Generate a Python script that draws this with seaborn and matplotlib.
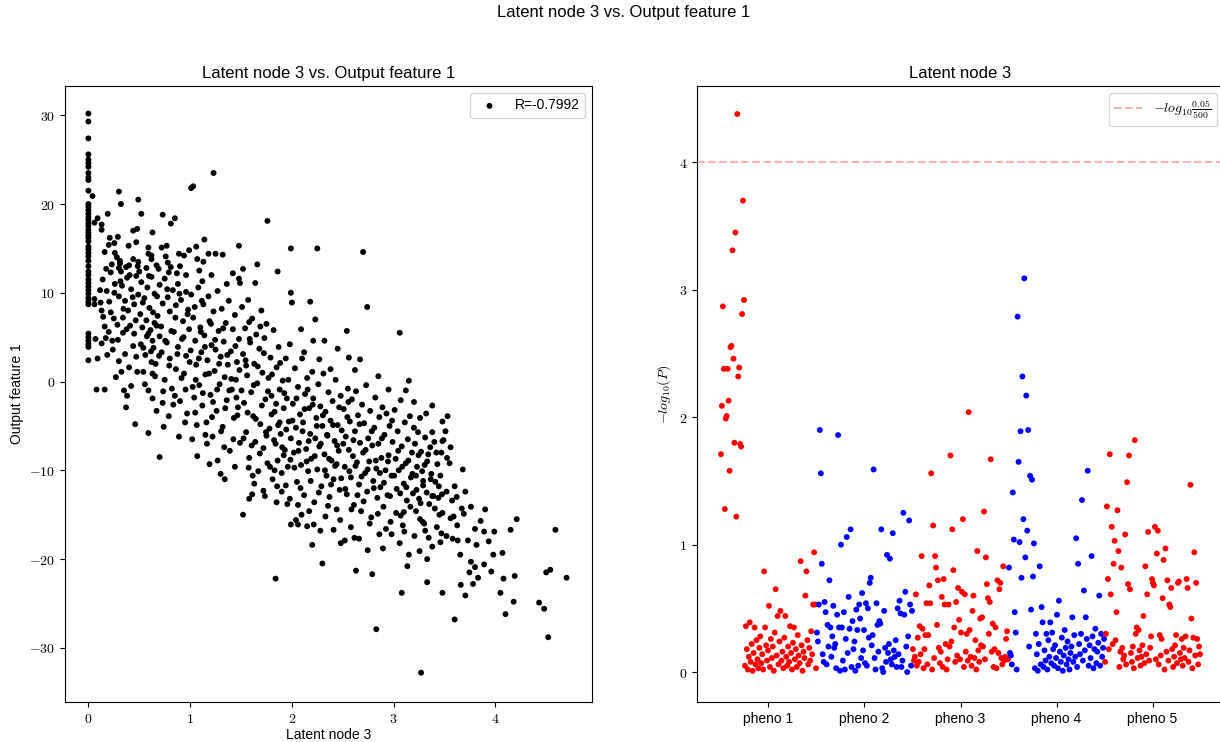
import matplotlib
matplotlib.use("Agg")
import matplotlib.pyplot as plt
from matplotlib.ticker import FuncFormatter
import numpy as np
import pandas as pd
import seaborn as sns

# ---------------------------------------------------------------- data
# latent node 3 activation == 0 (ReLU floor): output feature values
zero_latent_output = [30.2, 29.3, 27.4, 25.6, 25.0, 24.6, 24.2, 23.5, 23.0, 22.7,
                      21.5, 20.0, 19.7, 19.3, 18.9, 18.5, 18.2, 17.8, 17.5, 17.1,
                      16.8, 16.5, 16.2, 15.8, 15.2, 14.9, 14.5, 14.1, 13.6, 13.0,
                      12.4, 12.0, 11.5, 11.1, 10.7, 10.3, 9.9, 9.4, 9.0, 8.7,
                      5.4, 5.0, 4.6, 4.2, 3.9, 2.4]

# (latent node 3, output feature 1) pairs, grouped by latent range
band_0_05 = [(0.04, 20.9), (0.06, 17.9), (0.09, 18.4), (0.13, 17.7), (0.13, 17.1),
             (0.19, 18.9), (0.30, 21.4), (0.32, 20.0), (0.21, 16.2), (0.29, 16.3),
             (0.20, 15.4), (0.16, 14.6), (0.26, 14.5), (0.28, 14.0), (0.31, 13.6),
             (0.31, 13.3), (0.37, 12.9), (0.32, 12.4), (0.40, 13.1), (0.44, 17.0),
             (0.48, 17.2), (0.47, 15.7), (0.49, 20.5), (0.06, 9.3), (0.06, 8.7),
             (0.12, 8.9), (0.13, 8.0), (0.22, 7.8), (0.07, 4.8), (0.13, 4.3),
             (0.17, 4.9), (0.24, 3.6), (0.29, 4.7), (0.09, 2.6), (0.34, 5.5),
             (0.34, 7.2), (0.39, 8.0), (0.41, 6.3), (0.45, 5.4), (0.14, 11.5),
             (0.18, 10.2), (0.22, 12.3), (0.26, 11.0), (0.30, 9.6), (0.33, 10.8),
             (0.36, 9.1), (0.38, 11.7), (0.42, 10.4), (0.45, 8.7), (0.47, 11.9),
             (0.49, 9.8), (0.16, 6.2), (0.20, 5.6), (0.25, 7.1), (0.30, 2.3),
             (0.36, 3.1), (0.40, 1.6), (0.44, 4.0), (0.47, 2.8), (0.27, 0.5),
             (0.42, -0.5), (0.48, 1.1), (0.08, -0.9), (0.16, -0.9), (0.35, -1.0),
             (0.38, -1.6), (0.37, -2.9), (0.46, -4.8), (0.30, 12.8), (0.44, 13.8),
             (0.23, 13.2), (0.115, 10.3), (0.145, 7.3), (0.175, 12.7), (0.205, 9.0),
             (0.235, 4.6), (0.255, 10.0), (0.285, 6.4), (0.315, 11.3), (0.345, 8.2),
             (0.375, 5.9), (0.405, 12.0), (0.435, 9.5), (0.465, 6.9), (0.485, 13.0),
             (0.255, 15.6), (0.395, 15.3), (0.185, 3.0), (0.325, 1.1)]

band_05_10 = [(0.52, 18.9), (0.63, 16.8), (0.49, 13.5), (0.50, 12.4), (0.59, 15.1),
              (0.59, 14.4), (0.62, 14.2), (0.62, 13.8), (0.67, 13.1), (0.57, 12.8),
              (0.72, 15.1), (0.77, 15.3), (0.76, 14.1), (0.78, 13.4), (0.79, 12.3),
              (0.73, 18.8), (0.81, 17.8), (0.85, 18.4), (0.89, 14.4), (0.94, 14.2),
              (0.87, 12.2), (0.51, 7.6), (0.53, 6.1), (0.54, 3.8), (0.59, 5.4),
              (0.63, 4.6), (0.64, 3.8), (0.67, 6.3), (0.52, 11.2), (0.55, 9.4),
              (0.58, 10.6), (0.60, 8.3), (0.62, 11.8), (0.65, 9.9), (0.68, 7.4),
              (0.70, 10.9), (0.73, 8.8), (0.75, 11.6), (0.78, 9.5), (0.80, 7.9),
              (0.83, 10.3), (0.86, 8.6), (0.88, 11.0), (0.91, 9.2), (0.93, 6.8),
              (0.96, 10.1), (0.98, 8.1), (0.54, 1.1), (0.59, -1.0), (0.62, 2.2),
              (0.63, 0.9), (0.63, -1.9), (0.59, -5.8), (0.74, -5.1), (0.70, -8.5),
              (0.89, -6.2), (0.56, 3.0), (0.66, 2.0), (0.70, 5.1), (0.72, 3.3),
              (0.75, 0.2), (0.77, 4.4), (0.80, 2.6), (0.82, -0.8), (0.84, 5.6),
              (0.86, 1.4), (0.88, 3.9), (0.90, -2.2), (0.92, 4.8), (0.94, 0.9),
              (0.96, 2.9), (0.97, -3.6), (0.99, 5.9), (0.73, -2.4), (0.67, -3.3),
              (0.79, -3.9), (0.85, -1.6), (0.95, -4.6), (0.57, 6.9), (0.61, 5.8),
              (0.65, 6.6), (0.69, 12.7), (0.81, 12.9), (0.90, 13.0), (0.96, 12.0),
              (0.99, 14.8), (0.515, 4.2), (0.535, 8.9), (0.555, -0.3), (0.575, 5.1),
              (0.595, 11.9), (0.615, 3.4), (0.635, 7.8), (0.655, 0.6), (0.675, 9.6),
              (0.695, 2.9), (0.715, 6.2), (0.735, -1.1), (0.755, 4.6), (0.775, 10.4),
              (0.795, 1.8), (0.815, 5.7), (0.835, -2.6), (0.855, 7.2), (0.875, 3.1),
              (0.895, 9.9), (0.915, 0.4), (0.935, 5.0), (0.955, -0.9), (0.975, 7.6),
              (0.995, 2.2)]

band_10_15 = [(1.01, 21.8), (1.03, 22.0), (1.23, 23.5), (1.14, 16.0), (1.06, 15.2),
              (1.07, 13.8), (1.13, 13.5), (1.18, 14.4), (1.25, 14.4), (1.32, 14.3),
              (1.48, 15.3), (1.42, 12.2), (1.48, 11.6), (1.49, 11.1), (1.02, -6.5),
              (1.34, -11.0), (1.05, -3.5), (1.01, 9.8), (1.03, 7.2), (1.05, 4.6),
              (1.06, 1.9), (1.08, 10.6), (1.09, -0.4), (1.10, 6.1), (1.11, 3.3),
              (1.12, -2.7), (1.13, 8.7), (1.14, 5.2), (1.15, 0.8), (1.16, -4.6),
              (1.17, 2.4), (1.18, 9.6), (1.19, 6.8), (1.20, -1.5), (1.21, 4.1),
              (1.22, -6.2), (1.23, 7.9), (1.24, 1.2), (1.25, 3.6), (1.26, -3.3),
              (1.27, 10.2), (1.28, 5.7), (1.29, -0.3), (1.30, 2.8), (1.31, 8.2),
              (1.32, -5.1), (1.33, 4.5), (1.34, 0.5), (1.35, 6.6), (1.36, -2.1),
              (1.37, 1.9), (1.38, 9.1), (1.39, -7.8), (1.40, 3.4), (1.41, -0.9),
              (1.42, 5.9), (1.43, -4.1), (1.44, 7.5), (1.45, 0.2), (1.46, 2.2),
              (1.47, -2.9), (1.48, 4.8), (1.49, -6.9), (1.04, -1.8), (1.07, -8.4),
              (1.12, 11.3), (1.19, -9.3), (1.27, -8.9), (1.44, -9.6), (1.36, 11.0),
              (1.21, 12.0), (1.09, 12.5), (1.30, -10.4), (1.15, -6.0), (1.005, 3.5),
              (1.025, -0.6), (1.045, 8.4), (1.065, -4.9), (1.085, 2.6), (1.105, 5.6),
              (1.125, -1.3), (1.145, 3.9), (1.165, -7.0), (1.185, 0.9), (1.205, 6.5),
              (1.225, -2.3), (1.245, 4.7), (1.265, -0.9), (1.285, 2.0), (1.305, -5.6),
              (1.325, 6.0), (1.345, -3.0), (1.365, 3.0), (1.385, -1.0), (1.405, 0.3),
              (1.425, -6.5), (1.445, 4.0), (1.465, -3.8), (1.485, 1.3), (1.115, 9.1),
              (1.215, -4.0), (1.335, -7.4), (1.455, -1.8), (1.055, 0.2)]

band_15_20 = [(1.52, -15.0), (1.58, -13.2), (1.61, -12.7), (1.84, -22.2), (1.76, 18.1),
              (1.99, 15.0), (1.86, 12.4), (1.66, 13.2), (1.64, 11.1), (1.99, 10.0),
              (1.85, -13.6), (1.90, -12.4), (1.98, -13.2), (1.99, -16.1), (1.52, 12.7),
              (1.51, 8.4), (1.52, 3.1), (1.53, -2.4), (1.54, 6.0), (1.55, -5.7),
              (1.56, 0.7), (1.57, 9.2), (1.58, -8.6), (1.59, 4.4), (1.60, -1.2),
              (1.61, 7.1), (1.62, -3.9), (1.63, 2.0), (1.64, -6.8), (1.65, 5.3),
              (1.66, -0.2), (1.67, -10.1), (1.68, 3.7), (1.69, -4.8), (1.70, 8.0),
              (1.71, 1.0), (1.72, -7.5), (1.73, 4.9), (1.74, -2.0), (1.75, 6.5),
              (1.76, -9.2), (1.77, 0.4), (1.78, -5.3), (1.79, 2.7), (1.80, -1.6),
              (1.81, -11.0), (1.82, 5.8), (1.83, -3.4), (1.84, -7.0), (1.85, 1.6),
              (1.86, -8.9), (1.87, 3.9), (1.88, -0.9), (1.89, -5.9), (1.90, -10.3),
              (1.91, 0.1), (1.92, -3.0), (1.93, -7.7), (1.94, 2.6), (1.95, -1.9),
              (1.96, -9.6), (1.97, -4.5), (1.98, 4.2), (1.99, -6.4), (1.55, 1.8),
              (1.63, -11.5), (1.72, -12.3), (1.80, -3.7), (1.88, -4.6), (1.94, -11.7),
              (1.69, 6.2), (1.58, 6.7), (1.75, -6.1), (1.83, -10.0), (1.92, -8.3),
              (1.505, -1.0), (1.525, -6.4), (1.545, 2.4), (1.565, -3.5), (1.585, 4.8),
              (1.605, -7.2), (1.625, -0.4), (1.645, -4.2), (1.665, 1.7), (1.685, -8.1),
              (1.705, -2.7), (1.725, 3.2), (1.745, -5.7), (1.765, -1.1), (1.785, -9.6),
              (1.805, 0.8), (1.825, -6.6), (1.845, -2.5), (1.865, -4.9), (1.885, 2.1),
              (1.905, -7.4), (1.925, -1.3), (1.945, -5.4), (1.965, 0.2), (1.985, -8.8),
              (1.615, -10.6), (1.735, -12.9), (1.855, -11.8), (1.955, -13.8), (1.575, -9.7)]

band_20_25 = [(2.18, 9.0), (2.09, 5.9), (2.23, 7.0), (2.21, 4.6), (2.32, 4.6),
              (2.45, 3.7), (2.25, 15.0), (2.00, 8.9), (2.20, -18.4), (2.30, -20.5),
              (2.15, -16.3), (2.06, -16.1), (2.04, -15.6), (2.41, -16.7), (2.48, -18.2),
              (2.01, -2.5), (2.02, -8.0), (2.03, 1.5), (2.04, -5.2), (2.05, -11.3),
              (2.06, -0.6), (2.07, -6.9), (2.08, -3.7), (2.09, -9.4), (2.10, 2.6),
              (2.11, -4.6), (2.12, -12.8), (2.13, -1.4), (2.14, -7.6), (2.15, 0.4),
              (2.16, -10.1), (2.17, -3.0), (2.18, -5.9), (2.19, -8.7), (2.20, 1.1),
              (2.21, -1.9), (2.22, -13.6), (2.23, -6.4), (2.24, -4.1), (2.25, -9.9),
              (2.26, -0.3), (2.27, -7.3), (2.28, -2.8), (2.29, -11.8), (2.30, -5.0),
              (2.31, 0.9), (2.32, -8.2), (2.33, -3.4), (2.34, -10.6), (2.35, -6.1),
              (2.36, -1.2), (2.37, -13.0), (2.38, -4.4), (2.39, -8.9), (2.40, -2.2),
              (2.41, -11.0), (2.42, -6.7), (2.43, 0.2), (2.44, -9.3), (2.45, -4.9),
              (2.46, -7.8), (2.47, -12.2), (2.48, -1.6), (2.49, -5.5), (2.12, 3.3),
              (2.27, 2.5), (2.38, 1.4), (2.06, -13.9), (2.17, -14.6), (2.33, -15.2),
              (2.44, -14.4), (2.28, -16.8), (2.005, -4.4), (2.025, -9.7), (2.045, -1.9),
              (2.065, -7.8), (2.085, -12.0), (2.105, -5.6), (2.125, -3.1), (2.145, -9.0),
              (2.165, -6.7), (2.185, -11.2), (2.205, -2.6), (2.225, -8.4), (2.245, -5.0),
              (2.265, -12.5), (2.285, -7.0), (2.305, -3.8), (2.325, -10.0), (2.345, -6.0),
              (2.365, -8.7), (2.385, -11.6), (2.405, -4.9), (2.425, -9.5), (2.445, -7.2),
              (2.465, -2.9), (2.485, -10.9), (2.095, -15.0), (2.215, -16.1), (2.355, -14.0),
              (2.475, -15.6), (2.155, -0.9)]

band_25_30 = [(2.54, 5.7), (2.56, 2.7), (2.67, 2.5), (2.74, 8.4), (2.70, 14.6),
              (2.63, -21.3), (2.79, -21.7), (2.83, -27.9), (2.66, -17.7), (2.58, -16.4),
              (2.86, -17.2), (2.98, -17.2), (2.52, -17.9), (2.51, -3.1), (2.52, -9.6),
              (2.53, -6.2), (2.54, -12.7), (2.55, -0.8), (2.56, -7.7), (2.57, -4.5),
              (2.58, -10.8), (2.59, -2.0), (2.60, -8.4), (2.61, -13.9), (2.62, -5.6),
              (2.63, -1.1), (2.64, -9.1), (2.65, -3.8), (2.66, -11.6), (2.67, -6.9),
              (2.68, -14.6), (2.69, -2.6), (2.70, -8.0), (2.71, -4.7), (2.72, -10.3),
              (2.73, -0.4), (2.74, -12.4), (2.75, -6.4), (2.76, -9.0), (2.77, -3.3),
              (2.78, -15.3), (2.79, -7.2), (2.80, -11.2), (2.81, -5.2), (2.82, -1.8),
              (2.83, -9.8), (2.84, -13.1), (2.85, -7.0), (2.86, -4.0), (2.87, -11.9),
              (2.88, -8.6), (2.89, -2.9), (2.90, -14.1), (2.91, -6.0), (2.92, -10.0),
              (2.93, -3.6), (2.94, -12.8), (2.95, -8.3), (2.96, -5.0), (2.97, -15.8),
              (2.98, -10.6), (2.99, -6.8), (2.62, 1.3), (2.85, 0.6), (2.95, -0.9),
              (2.505, -7.0), (2.525, -12.1), (2.545, -4.0), (2.565, -10.1), (2.585, -14.4),
              (2.605, -6.6), (2.625, -9.5), (2.645, -12.8), (2.665, -4.8), (2.685, -10.7),
              (2.705, -13.5), (2.725, -7.7), (2.745, -9.9), (2.765, -16.0), (2.785, -5.6),
              (2.805, -12.0), (2.825, -8.9), (2.845, -14.9), (2.865, -10.3), (2.885, -6.4),
              (2.905, -11.4), (2.925, -16.6), (2.945, -9.0), (2.965, -12.9), (2.985, -4.4),
              (2.615, -17.6), (2.745, -19.0), (2.895, -18.8), (2.555, -2.3)]

band_30_35 = [(3.06, 5.5), (3.15, 0.1), (3.38, -2.7), (3.32, -3.6), (3.24, -5.7),
              (3.38, -5.7), (3.48, -4.5), (3.34, -8.2), (3.42, -8.0), (3.47, -8.0),
              (3.46, -10.6), (3.22, -10.6), (3.29, -11.2), (3.29, -11.7), (3.38, -12.9),
              (3.08, -23.8), (3.27, -32.8), (3.33, -22.6), (3.48, -23.8), (3.31, -16.8),
              (3.30, -16.0), (3.26, -15.5), (3.22, -14.6), (3.39, -12.9), (3.45, -15.0),
              (3.48, -14.8), (3.47, -17.1), (3.46, -18.1), (3.38, -18.6), (3.33, -20.0),
              (3.15, -19.5), (3.06, -18.2), (3.07, -15.1), (3.10, -14.7), (3.09, -16.2),
              (3.01, -3.2), (3.02, -8.7), (3.03, -12.1), (3.04, -5.6), (3.05, -10.0),
              (3.07, -2.1), (3.08, -7.3), (3.10, -11.5), (3.11, -4.6), (3.12, -9.2),
              (3.13, -13.4), (3.14, -6.5), (3.16, -3.9), (3.17, -10.8), (3.18, -8.0),
              (3.19, -12.6), (3.20, -5.2), (3.21, -7.0), (3.23, -9.6), (3.25, -13.2),
              (3.26, -4.1), (3.27, -7.9), (3.28, -10.1), (3.31, -6.3), (3.33, -9.0),
              (3.35, -13.8), (3.36, -7.4), (3.37, -10.4), (3.40, -6.8), (3.41, -11.3),
              (3.43, -9.3), (3.44, -13.1), (3.49, -6.6), (3.12, -1.0), (3.20, -2.3),
              (3.005, -10.6), (3.025, -14.8), (3.045, -7.8), (3.065, -12.6), (3.085, -9.6),
              (3.105, -16.9), (3.125, -11.9), (3.145, -8.9), (3.165, -14.1), (3.185, -10.4),
              (3.205, -17.4), (3.225, -12.2), (3.245, -8.3), (3.265, -13.7), (3.285, -15.8),
              (3.305, -9.4), (3.325, -12.5), (3.345, -17.6), (3.365, -11.0), (3.405, -14.3),
              (3.425, -16.4), (3.445, -11.8), (3.475, -12.7), (3.135, -20.8), (3.255, -19.1)]

band_35_40 = [(3.53, -3.9), (3.51, -5.6), (3.48, -6.7), (3.56, -7.4), (3.68, -9.9),
              (3.60, -26.8), (3.66, -22.9), (3.78, -22.8), (3.83, -22.1), (3.89, -20.6),
              (3.96, -21.4), (3.98, -19.5), (3.76, -20.3), (3.80, -20.9), (3.90, -14.4),
              (3.76, -14.1), (3.67, -14.3), (3.80, -16.6), (3.89, -16.9), (3.99, -16.9),
              (3.73, -17.9), (3.63, -17.9), (3.58, -17.7), (3.52, -17.4), (3.56, -15.4),
              (3.59, -15.2), (3.69, -14.9), (3.55, -9.2), (3.60, -11.8), (3.52, -12.4),
              (3.62, -13.0), (3.525, -8.6), (3.575, -13.4), (3.625, -16.2), (3.655, -19.5),
              (3.705, -12.4), (3.745, -21.5), (3.815, -18.4), (3.855, -15.7), (3.935, -18.0),
              (3.705, -24.1)]

band_40_48 = [(4.05, -23.8), (4.08, -22.2), (4.10, -26.2), (4.18, -24.8), (4.19, -21.9),
              (4.15, -16.7), (4.21, -15.5), (4.43, -24.9), (4.48, -25.6), (4.50, -21.5),
              (4.54, -21.2), (4.52, -28.8), (4.59, -16.7), (4.70, -22.1), (4.07, -19.3)]

r_value = -0.7992

# -log10(P) per SNP index for each phenotype
pheno_names = ["pheno 1", "pheno 2", "pheno 3", "pheno 4", "pheno 5"]
pheno_colors = ["red", "blue", "red", "blue", "red"]

pheno1_logp = [1.71, 2.09, 2.87, 2.38, 1.28, 1.99, 2.01, 2.38, 2.13, 1.58,
               2.55, 2.56, 3.31, 2.46, 1.80, 3.45, 1.22, 4.38, 2.32, 2.39,
               1.79, 1.77, 2.81, 3.70, 2.92, 0.05, 0.36, 0.18, 0.02, 0.12,
               0.39, 0.08, 0.22, 0.01, 0.15, 0.35, 0.06, 0.25, 0.10, 0.03,
               0.19, 0.28, 0.07, 0.14, 0.02, 0.79, 0.35, 0.21, 0.09, 0.17,
               0.52, 0.04, 0.26, 0.11, 0.20, 0.01, 0.31, 0.65, 0.13, 0.44,
               0.06, 0.24, 0.48, 0.09, 0.16, 0.03, 0.27, 0.44, 0.12, 0.05,
               0.20, 0.08, 0.36, 0.15, 0.02, 0.23, 0.35, 0.10, 0.18, 0.04,
               0.29, 0.13, 0.07, 0.87, 0.21, 0.01, 0.16, 0.11, 0.60, 0.79,
               0.25, 0.06, 0.19, 0.09, 0.32, 0.14, 0.53, 0.94, 0.53, 0.03]

pheno2_logp = [0.31, 0.24, 0.53, 1.90, 1.56, 0.85, 0.14, 0.08, 0.55, 0.47,
               0.06, 0.37, 0.20, 0.72, 0.35, 0.12, 0.28, 0.52, 0.19, 0.22,
               0.03, 0.45, 1.86, 0.35, 0.01, 1.00, 0.35, 0.09, 0.47, 0.02,
               0.26, 1.06, 0.15, 0.59, 0.34, 1.12, 0.04, 0.40, 0.18, 0.24,
               0.01, 0.49, 0.33, 0.05, 0.53, 0.42, 0.11, 0.62, 0.17, 0.33,
               0.07, 0.54, 0.05, 0.50, 0.27, 0.70, 0.74, 0.21, 0.29, 1.59,
               0.11, 0.02, 0.54, 0.37, 0.16, 0.40, 0.38, 1.12, 0.03, 0.00,
               0.48, 0.19, 0.08, 0.92, 0.15, 0.22, 0.89, 0.10, 0.06, 1.09,
               0.17, 0.12, 0.25, 0.04, 0.50, 0.14, 0.56, 0.46, 0.04, 0.09,
               1.25, 0.45, 0.63, 0.20, 0.00, 0.28, 1.19, 0.53, 0.05, 0.48]

pheno3_logp = [0.18, 0.09, 0.12, 0.61, 0.05, 0.27, 0.08, 0.36, 0.14, 0.91,
               0.34, 0.03, 0.18, 0.29, 0.54, 0.06, 0.29, 0.68, 0.54, 1.56,
               0.02, 1.15, 0.11, 0.91, 0.82, 0.37, 0.72, 0.19, 0.07, 0.16,
               0.59, 0.04, 0.73, 0.53, 0.22, 0.02, 0.10, 0.53, 0.20, 1.70,
               0.24, 1.12, 0.80, 0.35, 0.08, 0.55, 0.13, 0.66, 0.41, 0.10,
               0.31, 0.63, 1.20, 0.04, 0.61, 0.16, 0.30, 0.09, 2.04, 0.33,
               0.12, 0.05, 0.48, 0.60, 0.11, 0.25, 0.02, 0.95, 0.17, 0.08,
               0.42, 0.21, 0.43, 0.20, 1.26, 0.10, 0.90, 0.69, 0.58, 0.30,
               0.55, 1.67, 0.16, 0.38, 0.04, 0.18, 0.35, 0.03, 0.72, 0.15,
               0.65, 0.70, 0.11, 0.06, 0.83, 0.09, 0.12, 0.26, 0.32, 0.10]

pheno4_logp = [0.82, 0.15, 0.13, 0.06, 1.41, 1.04, 0.47, 0.31, 0.02, 2.79,
               1.65, 1.02, 1.89, 0.74, 2.32, 1.20, 3.09, 0.90, 2.17, 1.11,
               1.90, 0.20, 1.54, 0.49, 1.51, 0.75, 1.01, 0.03, 0.30, 0.14,
               0.01, 0.22, 0.83, 0.06, 0.51, 0.39, 0.04, 0.17, 0.09, 0.30,
               0.02, 0.25, 0.12, 0.39, 0.07, 0.31, 0.18, 0.05, 0.21, 0.11,
               0.45, 0.03, 0.56, 0.16, 0.08, 0.27, 0.01, 0.13, 0.33, 0.19,
               0.06, 0.24, 0.10, 0.02, 0.15, 0.20, 0.43, 0.08, 0.29, 0.12,
               1.05, 0.04, 0.85, 0.22, 0.14, 0.30, 1.35, 0.09, 0.64, 0.17,
               0.43, 0.26, 1.58, 0.05, 0.21, 0.11, 0.91, 0.28, 0.03, 0.18,
               0.34, 0.07, 0.16, 0.23, 0.60, 0.05, 0.30, 0.12, 0.19, 0.26]

pheno5_logp = [0.08, 0.30, 1.30, 0.73, 0.18, 1.71, 0.61, 1.14, 0.22, 0.85,
               1.03, 0.25, 0.47, 1.27, 0.95, 0.04, 0.16, 0.82, 0.19, 0.10,
               0.13, 1.08, 0.06, 1.49, 0.69, 1.70, 0.65, 0.15, 0.08, 0.20,
               0.03, 1.82, 0.30, 0.35, 0.11, 0.33, 0.17, 0.05, 0.12, 0.21,
               0.44, 0.07, 0.83, 0.14, 0.61, 1.10, 0.09, 0.19, 0.28, 0.73,
               0.70, 0.68, 1.14, 0.10, 0.93, 1.11, 0.06, 0.29, 0.13, 0.26,
               0.58, 0.88, 0.02, 0.97, 0.16, 0.72, 0.09, 0.53, 0.51, 0.66,
               0.18, 0.04, 0.12, 0.21, 0.29, 0.07, 0.70, 0.71, 0.15, 0.10,
               0.26, 0.05, 0.19, 0.11, 0.28, 0.73, 0.66, 0.08, 0.17, 1.47,
               0.42, 0.03, 0.27, 0.94, 0.13, 0.70, 0.26, 0.06, 0.20, 0.14]

alpha_level = 0.05
n_tests = 500

# ---------------------------------------------------------------- style
plt.rcParams.update({
    "font.family": ["Liberation Sans", "DejaVu Sans"],
    "mathtext.fontset": "cm",
    "font.size": 10,
    "axes.titlesize": 12,
    "axes.labelsize": 10,
    "xtick.labelsize": 10,
    "ytick.labelsize": 10,
})


def cm_number(v, _pos):
    sign = "-" if v < 0 else ""
    return rf"${sign}\mathrm{{{abs(v):g}}}$"


# ---------------------------------------------------------------- frames
scatter_pairs = ([(0.0, y) for y in zero_latent_output] + band_0_05 + band_05_10
                 + band_10_15 + band_15_20 + band_20_25 + band_25_30
                 + band_30_35 + band_35_40 + band_40_48)
scatter_df = pd.DataFrame(scatter_pairs, columns=["latent", "output"])

pheno_series = [pheno1_logp, pheno2_logp, pheno3_logp, pheno4_logp, pheno5_logp]
rows = []
pos = 0
for name, vals in zip(pheno_names, pheno_series):
    for v in vals:
        rows.append((pos, v, name))
        pos += 1
manhattan_df = pd.DataFrame(rows, columns=["snp", "logp", "pheno"])
group_centers = manhattan_df.groupby("pheno", sort=False)["snp"].mean().values

# ---------------------------------------------------------------- figure
fig = plt.figure(figsize=(12.2, 7.42), dpi=100)
ax1 = fig.add_axes([65 / 1220, 40 / 742, 527 / 1220, 616 / 742])
ax2 = fig.add_axes([697 / 1220, 40 / 742, 527 / 1220, 616 / 742])

fig.suptitle("Latent node 3 vs. Output feature 1", x=624 / 1220, y=1 - 13 / 742,
             va="center", fontsize=12)

# left: latent activation vs output feature
sns.scatterplot(data=scatter_df, x="latent", y="output", color="black", s=18,
                linewidth=0, edgecolor="none", label=f"R={r_value}", ax=ax1)
ax1.set_xlim(-0.23, 4.95)
ax1.set_ylim(-36.1, 33.3)
ax1.set_xticks([0, 1, 2, 3, 4])
ax1.set_yticks([-30, -20, -10, 0, 10, 20, 30])
ax1.xaxis.set_major_formatter(FuncFormatter(cm_number))
ax1.yaxis.set_major_formatter(FuncFormatter(cm_number))
ax1.set_xlabel("Latent node 3", labelpad=1.5)
ax1.set_ylabel("Output feature 1")
ax1.set_title("Latent node 3 vs. Output feature 1")
ax1.legend(loc="upper right")

# right: manhattan-style association plot
sns.scatterplot(data=manhattan_df, x="snp", y="logp", hue="pheno",
                palette=dict(zip(pheno_names, pheno_colors)), s=18, linewidth=0,
                edgecolor="none", legend=False, ax=ax2)
threshold = -np.log10(alpha_level / n_tests)
ax2.axhline(threshold, color="red", alpha=0.3, linestyle="--",
            label=r"$-log_{10}\frac{0.05}{500}$")
ax2.set_xlim(-24.95, 523.95)
ax2.set_ylim(-0.235, 4.60)
ax2.set_xticks(group_centers)
ax2.set_xticklabels(pheno_names)
ax2.set_yticks([0, 1, 2, 3, 4])
ax2.yaxis.set_major_formatter(FuncFormatter(cm_number))
ax2.set_xlabel("")
ax2.set_ylabel(r"$-log_{10}(P)$")
ax2.set_title("Latent node 3")
ax2.legend(loc="upper right")

fig.savefig("out.png", dpi=100)
